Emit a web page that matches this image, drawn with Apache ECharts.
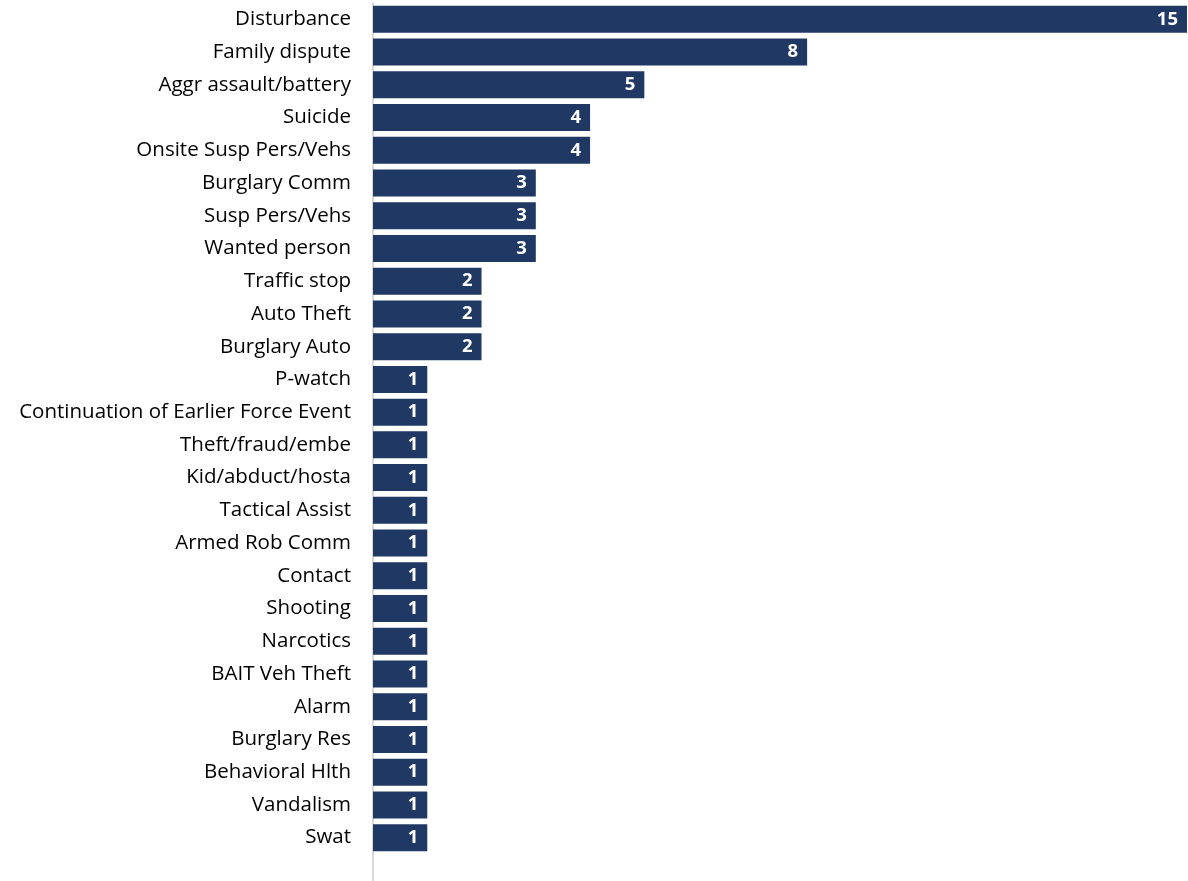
<!DOCTYPE html>
<html><head><meta charset="utf-8">
<script src="https://cdn.jsdelivr.net/npm/echarts@6/dist/echarts.min.js"></script>
<style>html,body{margin:0;padding:0;background:#fff}#c{width:1188px;height:881px}</style>
</head><body><div id="c"></div>
<script>
const categories = ["Disturbance","Family dispute","Aggr assault/battery","Suicide","Onsite Susp Pers/Vehs","Burglary Comm","Susp Pers/Vehs","Wanted person","Traffic stop","Auto Theft","Burglary Auto","P-watch","Continuation of Earlier Force Event","Theft/fraud/embe","Kid/abduct/hosta","Tactical Assist","Armed Rob Comm","Contact","Shooting","Narcotics","BAIT Veh Theft","Alarm","Burglary Res","Behavioral Hlth","Vandalism","Swat"];
const values = [15,8,5,4,4,3,3,3,2,2,2,1,1,1,1,1,1,1,1,1,1,1,1,1,1,1];
const chart = echarts.init(document.getElementById('c'), null, {renderer:'canvas'});
chart.setOption({
  animation:false,
  grid:{left:373,right:1,top:3,bottom:27,containLabel:false},
  xAxis:{type:'value',min:0,max:15,show:false},
  yAxis:{type:'category',data:categories,inverse:true,
    axisLine:{show:true,lineStyle:{color:'#d9d9d9',width:2}},
    axisTick:{show:false},
    axisLabel:{color:'#000',fontFamily:'Open Sans',fontSize:20.5,margin:22}},
  series:[{type:'bar',data:values,barWidth:27,
    itemStyle:{color:'#203864'},
    label:{show:true,position:'insideRight',distance:9,color:'#fff',fontWeight:'bold',fontFamily:'Open Sans',fontSize:18.5}}]
});
// extend the value-axis baseline down to the bottom edge, as in the reference
const x0 = chart.convertToPixel({xAxisIndex:0}, 0);
const gridBottom = 881 - 27;
chart.setOption({graphic:[{type:'line',silent:true,
  shape:{x1:x0,y1:gridBottom,x2:x0,y2:881},style:{stroke:'#d9d9d9',lineWidth:2}}]});
</script></body></html>
